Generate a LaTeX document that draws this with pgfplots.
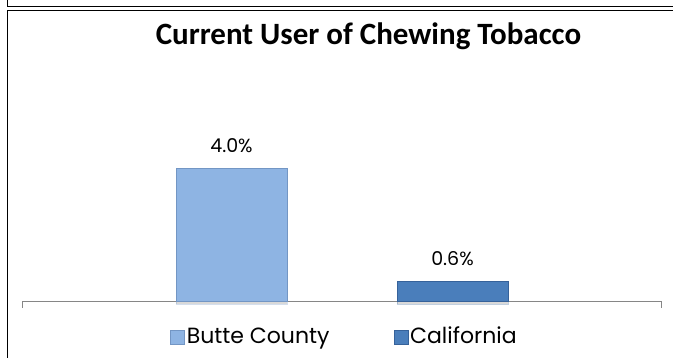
\documentclass[border=0pt]{standalone}
\usepackage{fontspec}
\setmainfont{Poppins}
\newfontfamily\titlefont{Carlito}
\usepackage{pgfplots}
\pgfplotsset{compat=1.18}
\usetikzlibrary{shadows}
\definecolor{buttefill}{HTML}{8EB4E3}
\definecolor{buttedraw}{HTML}{7396C4}
\definecolor{califfill}{HTML}{4A7EBB}
\definecolor{califdraw}{HTML}{36629A}
\definecolor{axgray}{HTML}{868686}
\begin{document}
\begin{tikzpicture}
\path[use as bounding box] (0pt,0pt) rectangle (673pt,358pt);
\draw[line width=1.3pt] (7.5pt,0pt) -- (7.5pt,347.5pt) -- (673pt,347.5pt);
\draw[line width=1.3pt] (7.5pt,358pt) -- (7.5pt,351.5pt) -- (673pt,351.5pt);
\node[font=\titlefont\bfseries\fontsize{31}{35}\selectfont, anchor=base] at (368.5pt,313pt) {Current User of Chewing Tobacco};
\begin{axis}[
  at={(22pt,57pt)}, anchor=south west,
  scale only axis, width=639pt, height=232.75pt,
  xmin=-1, xmax=1, ymin=0, ymax=7,
  axis x line*=bottom, axis y line=none,
  x axis line style={draw=axgray, line width=0.9pt, -},
  xtick={-1,1}, xticklabels={}, ytick=\empty,
  tick align=outside, major tick length=7pt,
  every tick/.style={draw=axgray, line width=0.9pt},
  clip=false,
  /pgf/number format/assume math mode=true,
  nodes near coords={\pgfmathprintnumber[fixed,fixed zerofill,precision=1]{\pgfplotspointmeta}\%},
  every node near coord/.append style={font=\fontsize{19}{22}\selectfont, anchor=base, yshift=15.5pt, inner sep=0pt, text=black},
  legend style={at={(0.2316,-0.1504)}, anchor=west, draw=none, fill=none, inner sep=0pt,
    font=\fontsize{22}{26}\selectfont, nodes={inner xsep=2pt, inner ysep=1pt},
    /tikz/every even column/.append style={column sep=62pt}},
  legend columns=2,
  legend cell align=left,
  legend image code/.code={\draw[#1] (0pt,-8pt) rectangle (14pt,6pt);},
]
\addplot[ybar, forget plot, bar width=111pt, bar shift=0pt, fill=buttefill, draw=buttedraw, line width=0.6pt,
  drop shadow={shadow xshift=0pt, shadow yshift=-3pt, opacity=0.3}] coordinates {(-0.3443,4.0)};
\addplot[ybar, forget plot, bar width=111pt, bar shift=0pt, fill=califfill, draw=califdraw, line width=0.6pt,
  drop shadow={shadow xshift=0pt, shadow yshift=-3pt, opacity=0.3}] coordinates {(0.3474,0.6)};
\addlegendimage{fill=buttefill, draw=buttedraw, line width=0.6pt}
\addlegendentry{Butte County}
\addlegendimage{fill=califfill, draw=califdraw, line width=0.6pt}
\addlegendentry{California}
\end{axis}
\end{tikzpicture}
\end{document}
